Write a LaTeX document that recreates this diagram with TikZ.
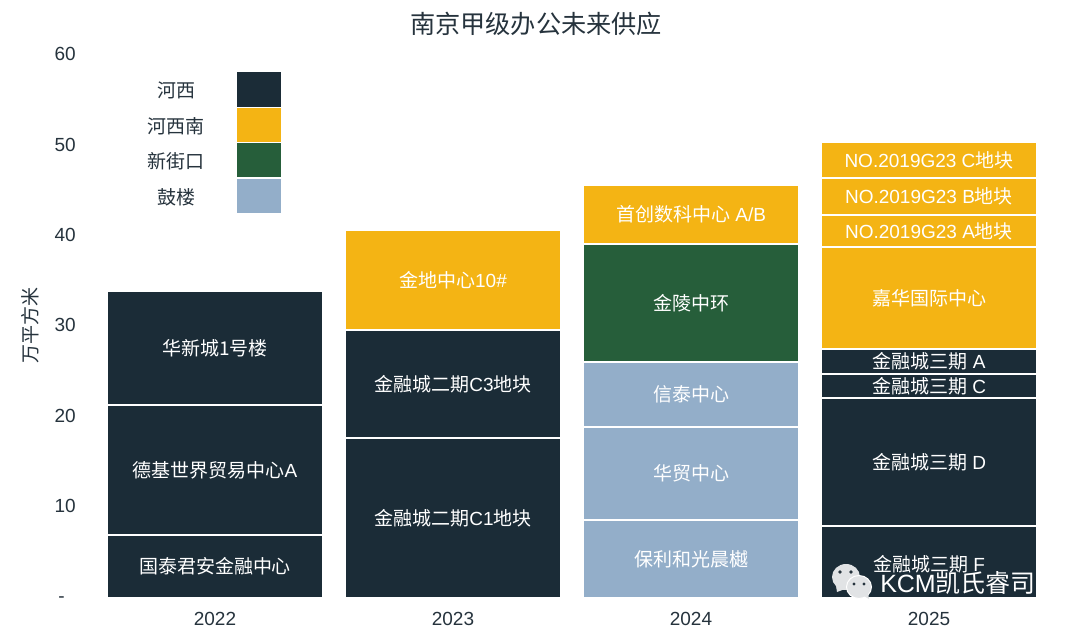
\documentclass[tikz,border=0pt]{standalone}
\usepackage{fontspec}
\setmainfont{Liberation Sans}
\newfontfamily\cjk{Noto Sans CJK SC}
\newcommand{\C}[1]{{\cjk #1}}
\definecolor{navy}{HTML}{1B2C37}
\definecolor{gold}{HTML}{F4B414}
\definecolor{forest}{HTML}{265E3A}
\definecolor{steel}{HTML}{93AEC9}
\definecolor{ink}{HTML}{26333D}
\definecolor{wm}{HTML}{E1E3E5}
\newcommand{\seg}[7]{% name, x0, x1, top, bottom, colour, text
  \node[segbox,fill=#6,minimum width=#3pt-#2pt,minimum height=#5pt-#4pt,anchor=north west] (#1) at (#2,#4) {\raisebox{-1pt}{#7}};}
\tikzset{
  segbox/.style={inner sep=0pt,outer sep=0pt,text=white,font=\fontsize{19}{20}\selectfont,align=center},
  axislabel/.style={inner sep=0pt,text=ink,font=\fontsize{19}{20}\selectfont},
  legendbox/.style={inner sep=0pt,outer sep=0pt,minimum width=44pt,anchor=north west},
}
\begin{document}
\begin{tikzpicture}[x=1pt,y=-1pt]
\useasboundingbox (0,0) rectangle (1072,630);
\fill[white] (0,0) rectangle (1072,630);
\node[inner sep=0pt,text=ink,font=\fontsize{25.2}{28}\selectfont] (title) at (536,24) {\C{南京甲级办公未来供应}};
% y axis
\node[axislabel,anchor=east] (t60) at (76,54) {60};
\node[axislabel,anchor=east] (t50) at (76,145) {50};
\node[axislabel,anchor=east] (t40) at (76,235) {40};
\node[axislabel,anchor=east] (t30) at (76,325) {30};
\node[axislabel,anchor=east] (t20) at (76,416) {20};
\node[axislabel,anchor=east] (t10) at (76,506) {10};
\node[axislabel,anchor=east] (t0) at (65,600) {-};
\node[axislabel,rotate=90] (ylab) at (30,325) {\C{万平方米}};
% x axis
\node[axislabel] (y22) at (215,619) {2022};
\node[axislabel] (y23) at (453,619) {2023};
\node[axislabel] (y24) at (691,619) {2024};
\node[axislabel] (y25) at (929,619) {2025};
% legend
\node[legendbox,fill=navy,minimum height=35pt] (l1) at (237,72) {};
\node[legendbox,fill=gold,minimum height=34pt] (l2) at (237,108) {};
\node[legendbox,fill=forest,minimum height=34pt] (l3) at (237,143) {};
\node[legendbox,fill=steel,minimum height=34pt] (l4) at (237,179) {};
\node[axislabel] (lt1) at (176,90) {\C{河西}};
\node[axislabel] (lt2) at (176,126) {\C{河西南}};
\node[axislabel] (lt3) at (176,161) {\C{新街口}};
\node[axislabel] (lt4) at (176,197) {\C{鼓楼}};
% 2022
\seg{a1}{108}{322}{292}{404}{navy}{\C{华新城1号楼}}
\seg{a2}{108}{322}{406}{534}{navy}{\C{德基世界贸易中心}A}
\seg{a3}{108}{322}{536}{597}{navy}{\C{国泰君安金融中心}}
% 2023
\seg{b1}{346}{560}{231}{329}{gold}{\C{金地中心}10\#}
\seg{b2}{346}{560}{331}{437}{navy}{\C{金融城二期}C3\C{地块}}
\seg{b3}{346}{560}{439}{597}{navy}{\C{金融城二期}C1\C{地块}}
% 2024
\seg{c1}{584}{798}{186}{243}{gold}{\C{首创数科中心} A/B}
\seg{c2}{584}{798}{245}{361}{forest}{\C{金陵中环}}
\seg{c3}{584}{798}{363}{426}{steel}{\C{信泰中心}}
\seg{c4}{584}{798}{428}{519}{steel}{\C{华贸中心}}
\seg{c5}{584}{798}{521}{597}{steel}{\C{保利和光晨樾}}
% 2025
\seg{d1}{822}{1036}{143}{177}{gold}{NO.2019G23 C\C{地块}}
\seg{d2}{822}{1036}{179}{214}{gold}{NO.2019G23 B\C{地块}}
\seg{d3}{822}{1036}{216}{246}{gold}{NO.2019G23 A\C{地块}}
\seg{d4}{822}{1036}{248}{348}{gold}{\C{嘉华国际中心}}
\seg{d5}{822}{1036}{350}{373}{navy}{\C{金融城三期} A}
\seg{d6}{822}{1036}{375}{397}{navy}{\C{金融城三期} C}
\seg{d7}{822}{1036}{399}{525}{navy}{\C{金融城三期} D}
\node[inner sep=0pt,outer sep=0pt,fill=navy,minimum width=214pt,minimum height=70pt,anchor=north west] (d8) at (822,527) {};
\node[inner sep=0pt,text=white,font=\fontsize{19}{20}\selectfont] (d8t) at (929,564) {\C{金融城三期} F};
% watermark
\fill[wm] (846,577) ellipse (14 and 13);
\fill[wm] (836,586) -- (837,592) -- (845,589) -- cycle;
\fill[wm,draw=white,line width=1pt] (859,587) ellipse (12.5 and 11.5);
\fill[wm] (864,596) -- (869,599) -- (868,592) -- cycle;
\fill[ink] (840,572) circle (1.8) (851,572) circle (1.8) (854,584) circle (1.6) (864,584) circle (1.6);
\node[inner sep=0pt,anchor=east,text=white,font=\fontsize{25}{28}\selectfont] (wmark) at (1036,583) {KCM\C{凯氏睿司}};
\end{tikzpicture}
\end{document}
